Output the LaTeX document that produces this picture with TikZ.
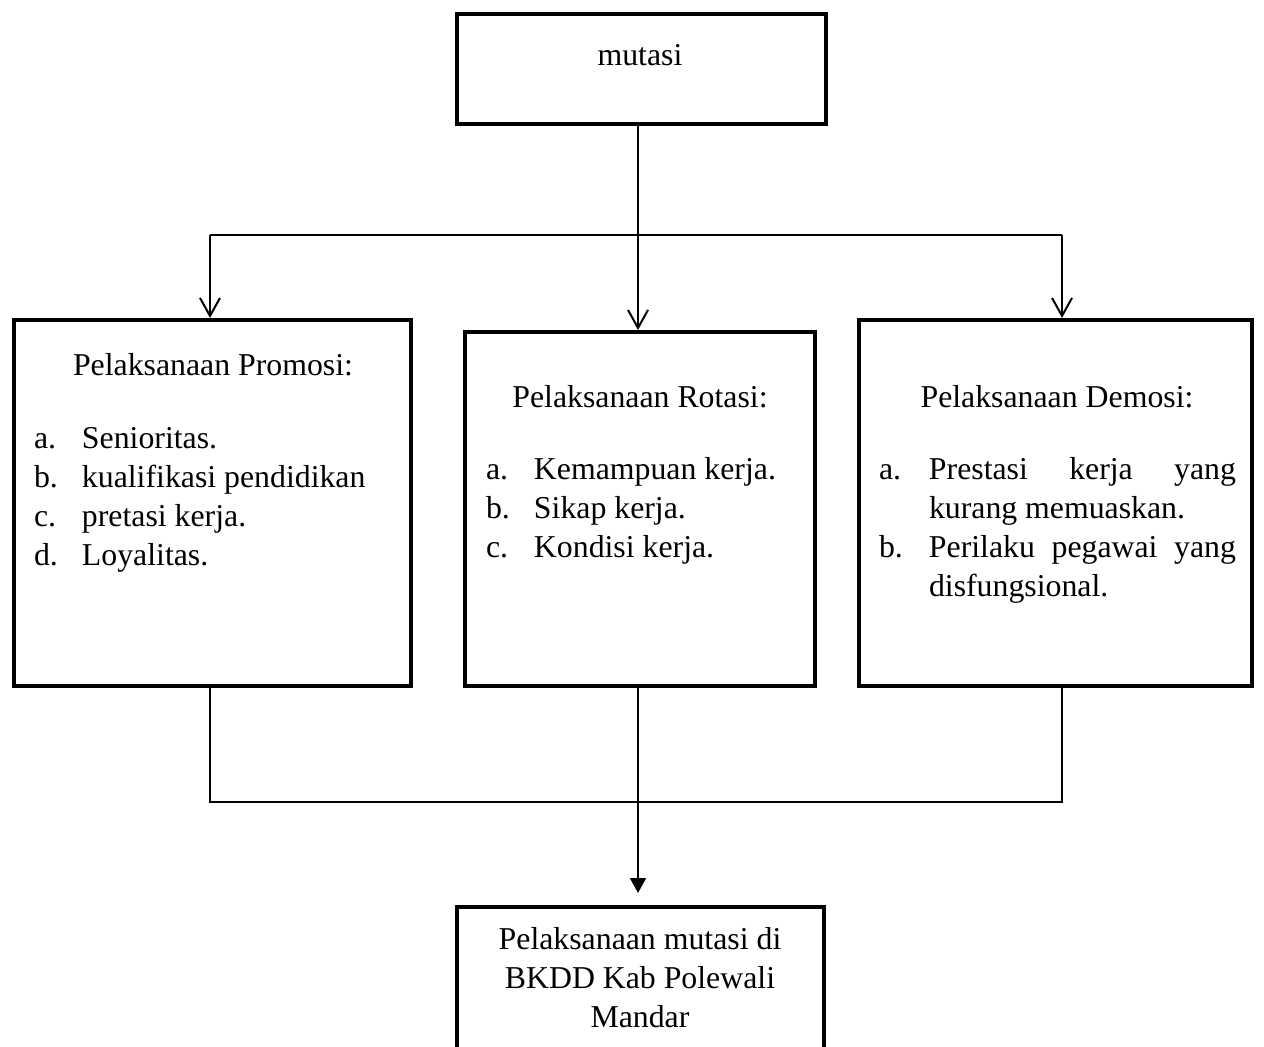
\documentclass[tikz,border=0pt]{standalone}
\usepackage{fontspec}
\setmainfont{Liberation Serif}
\usetikzlibrary{positioning,arrows.meta}
\hyphenpenalty=10000
\exhyphenpenalty=10000

\begin{document}
\begin{tikzpicture}[x=0.5pt, y=-0.5pt, line width=1pt,
                    font=\fontsize{15.9}{19.5}\selectfont,
                    box/.style = {draw,
                                  line width=2pt,
                                  inner sep=0pt},
                    txt/.style = {inner sep=0pt, align=center},
                    lst/.style = {inner sep=0pt, anchor=north west},
                    openarr/.style = {-{Straight Barb[length=9pt,width=10pt]}},
                    fullarr/.style = {-{Triangle[length=7.5pt,width=8pt]}, shorten >= 6pt}]

\useasboundingbox (0,0) rectangle (1264,1046);
\clip (0,0) rectangle (1264,1046);

% boxes
\node[box, minimum width=184.5pt, minimum height=55pt]  (mutasi)  at (641.5,69)  {};
\node[box, minimum width=198.5pt, minimum height=183pt] (promosi) at (212.5,503) {};
\node[box, minimum width=175pt,   minimum height=177pt] (rotasi)  at (640,509)   {};
\node[box, minimum width=196.5pt, minimum height=183pt] (demosi)  at (1055.5,503) {};
\node[box, minimum width=183.5pt, minimum height=86.5pt] (hasil)  at (640.5,993.5) {};

% texts
\node[txt] (mutasiT) at (640,55) {mutasi};

\node[txt] (promosiT) at (213,365) {Pelaksanaan Promosi:};
\node[lst] (promosiL) at (33,420) {%
  \begin{tabular}{@{}p{24pt}@{}p{160pt}@{}}
  a. & Senioritas.\\
  b. & kualifikasi pendidikan\\
  c. & pretasi kerja.\\
  d. & Loyalitas.
  \end{tabular}};

\node[txt] (rotasiT) at (640,397) {Pelaksanaan Rotasi:};
\node[lst] (rotasiL) at (485,451) {%
  \begin{tabular}{@{}p{24pt}@{}p{140pt}@{}}
  a. & Kemampuan kerja.\\
  b. & Sikap kerja.\\
  c. & Kondisi kerja.
  \end{tabular}};

\node[txt] (demosiT) at (1057,397) {Pelaksanaan Demosi:};
\node[lst] (demosiL) at (878,451) {%
  \begin{tabular}{@{}p{25pt}@{}p{153.5pt}@{}}
  a. & Prestasi kerja yang kurang memuaskan.\\
  b. & Perilaku pegawai yang disfungsional.
  \end{tabular}};

\node[txt] (hasilT) at (640,978) {Pelaksanaan mutasi di\\BKDD Kab Polewali\\Mandar};

% connectors
\coordinate (splitL) at (210,235);
\coordinate (splitM) at (638,235);
\coordinate (splitR) at (1062,235);
\coordinate (joinL)  at (210,802);
\coordinate (joinR)  at (1062,802);

\draw (splitL) -- (splitR);
\draw[openarr] (splitM |- mutasi.south) -- (splitM |- rotasi.north);
\draw[openarr] (splitL) -- (splitL |- promosi.north);
\draw[openarr] (splitR) -- (splitR |- demosi.north);

\draw (joinL |- promosi.south) -- (joinL) -- (joinR) -- (joinR |- demosi.south);
\draw[fullarr] (splitM |- rotasi.south) -- (splitM |- hasil.north);

\end{tikzpicture}
\end{document}
